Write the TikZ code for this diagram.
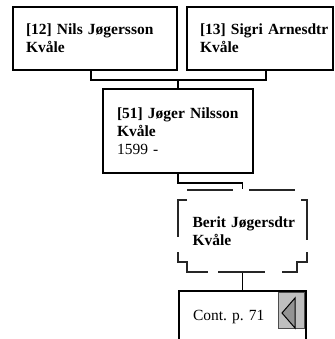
\documentclass[tikz,border=0pt]{standalone}
\usepackage{fontspec}
\setmainfont{Liberation Serif}
\usetikzlibrary{positioning}

\tikzset{
  person/.style={draw, line width=1.8pt, align=left, inner xsep=13pt, inner ysep=0pt,
    font=\fontsize{15.5}{18}\selectfont\bfseries,
    execute at begin node={\hyphenpenalty=10000\exhyphenpenalty=10000\frenchspacing}},
  link/.style={line width=1.8pt},
  ghost/.style={line width=1.2pt, black!85},
  button/.style={fill=gray!50, draw=black!70, line width=1pt, inner sep=0pt},
}

\begin{document}
\begin{tikzpicture}[x=1pt, y=-1pt]
\useasboundingbox (0,0) rectangle (334,339);
\clip (0,0) rectangle (334,339);
% parents
\node[person, minimum width=164, minimum height=63, text width=138] (p12) at (95,38.5)
  {[12]~Nils~Jøgersson\\Kvåle};
\node[person, minimum width=146, minimum height=63, text width=120] (p13) at (260,38.5)
  {[13]~Sigri~Arnesdtr\\Kvåle};
\coordinate (fam) at (178,80);
\draw[link] ([xshift=-4pt]p12.south) |- (fam) -| ([xshift=6pt]p13.south);
% main person
\node[person, minimum width=150, minimum height=84, inner xsep=14pt, text width=122] (p51) at (178,131)
  {[51]~Jøger~Nilsson\\Kvåle\\\mdseries 1599 -};
\draw[link] (fam) -- (p51.north);
% spouse / child box
\node[person, draw=none, minimum width=130, minimum height=82, inner xsep=15pt, text width=100] (berit) at (242.5,231)
  {Berit~Jøgersdtr\\Kvåle};
\draw[ghost] (187,190) -- (233,190) (249,190) -- (295,190);
\draw[ghost] (187,200) -- (178,200) -- (178,237);
\draw[ghost] (178,252) -- (178,262) -- (187,262) -- (187,272) -- (208,272);
\draw[ghost] (218,272) -- (265,272);
\draw[ghost] (282,272) -- (297,272) -- (297,262) -- (307,262) -- (307,252);
\draw[ghost] (301,200) -- (307,200) -- (307,240);
\draw[link] (p51.south) -- ++(0,9) -| (berit.north);
% continuation
\node[person, line width=2.2pt, font=\fontsize{15.5}{18}\selectfont, minimum width=127, minimum height=52,
  inner xsep=14pt, text width=99] (cont) at (242.5,317) {Cont. p. 71};
\draw[link] (berit.south) -- (cont.north);
\node[button, minimum width=26, minimum height=36] (btn) at (291,310) {};
\draw[fill=gray!85, line width=1pt] (282,313) -- (295,298) -- (295,328) -- cycle;
\end{tikzpicture}
\end{document}
